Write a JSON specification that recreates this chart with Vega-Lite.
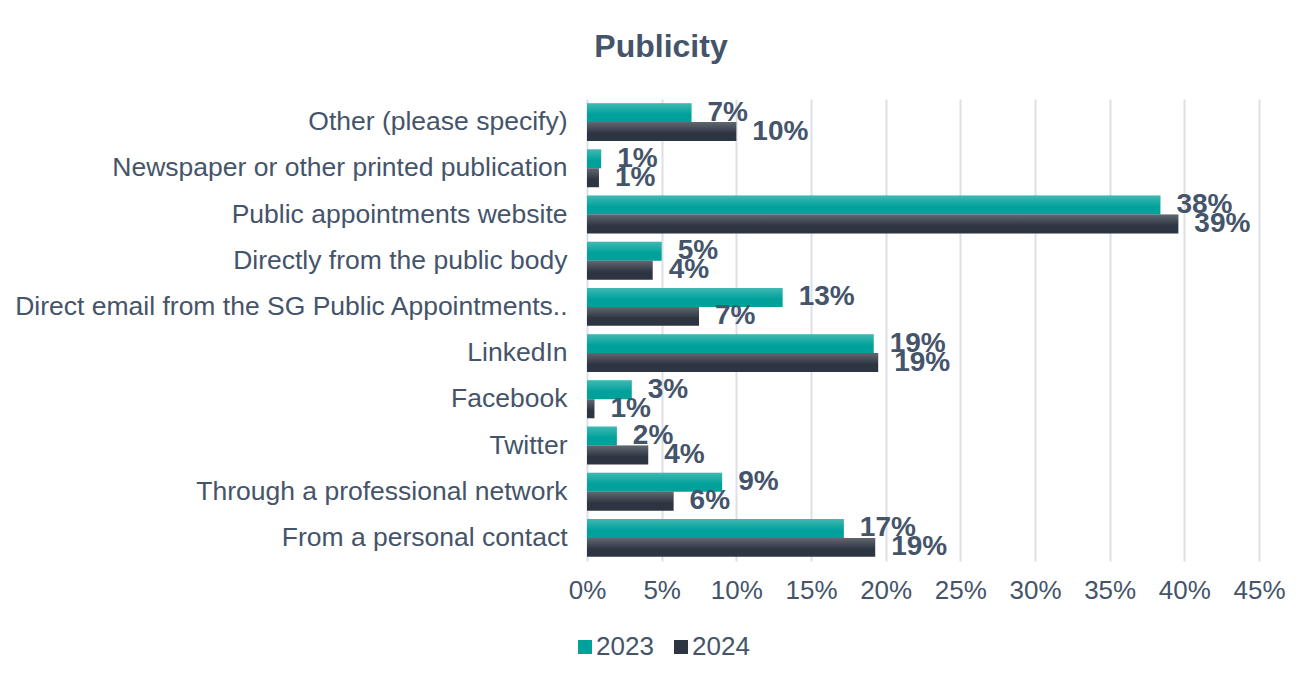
{
  "$schema": "https://vega.github.io/schema/vega-lite/v6.json",
  "autosize": {"type": "none"},
  "width": 672,
  "height": 462,
  "padding": {"left": 587, "top": 99, "right": 55, "bottom": 117},
  "background": "white",
  "config": {
    "font": "Liberation Sans",
    "view": {"stroke": null}
  },
  "title": {
    "text": "Publicity",
    "font": "Liberation Sans",
    "fontSize": 32,
    "fontWeight": "bold",
    "color": "#44546A",
    "anchor": "middle",
    "frame": "group",
    "dx": -262,
    "offset": 35
  },
  "data": {
    "values": [
      {"source": "Other (please specify)", "year": "2023", "value": 0.07, "label": "7%"},
      {"source": "Other (please specify)", "year": "2024", "value": 0.10, "label": "10%"},
      {"source": "Newspaper or other printed publication", "year": "2023", "value": 0.0095, "label": "1%"},
      {"source": "Newspaper or other printed publication", "year": "2024", "value": 0.008, "label": "1%"},
      {"source": "Public appointments website", "year": "2023", "value": 0.384, "label": "38%"},
      {"source": "Public appointments website", "year": "2024", "value": 0.396, "label": "39%"},
      {"source": "Directly from the public body", "year": "2023", "value": 0.05, "label": "5%"},
      {"source": "Directly from the public body", "year": "2024", "value": 0.044, "label": "4%"},
      {"source": "Direct email from the SG Public Appointments..", "year": "2023", "value": 0.131, "label": "13%"},
      {"source": "Direct email from the SG Public Appointments..", "year": "2024", "value": 0.075, "label": "7%"},
      {"source": "LinkedIn", "year": "2023", "value": 0.192, "label": "19%"},
      {"source": "LinkedIn", "year": "2024", "value": 0.195, "label": "19%"},
      {"source": "Facebook", "year": "2023", "value": 0.03, "label": "3%"},
      {"source": "Facebook", "year": "2024", "value": 0.005, "label": "1%"},
      {"source": "Twitter", "year": "2023", "value": 0.02, "label": "2%"},
      {"source": "Twitter", "year": "2024", "value": 0.041, "label": "4%"},
      {"source": "Through a professional network", "year": "2023", "value": 0.0905, "label": "9%"},
      {"source": "Through a professional network", "year": "2024", "value": 0.058, "label": "6%"},
      {"source": "From a personal contact", "year": "2023", "value": 0.172, "label": "17%"},
      {"source": "From a personal contact", "year": "2024", "value": 0.193, "label": "19%"}
    ]
  },
  "encoding": {
    "y": {
      "field": "source",
      "type": "nominal",
      "sort": null,
      "scale": {"paddingInner": 0.18, "paddingOuter": 0.09},
      "axis": {
        "title": null,
        "labelFontSize": 26.5,
        "labelColor": "#44546A",
        "labelPadding": 20,
        "labelLimit": 600,
        "ticks": false,
        "domain": false
      }
    },
    "yOffset": {"field": "year", "type": "nominal"},
    "x": {
      "field": "value",
      "type": "quantitative",
      "scale": {"domain": [0, 0.45], "nice": false},
      "axis": {
        "title": null,
        "format": ".0%",
        "values": [0, 0.05, 0.1, 0.15, 0.2, 0.25, 0.3, 0.35, 0.4, 0.45],
        "labelFontSize": 26,
        "labelColor": "#44546A",
        "labelPadding": 16,
        "labelFlush": false,
        "labelOverlap": false,
        "ticks": false,
        "domain": false,
        "grid": true,
        "gridColor": "#DCE0E8",
        "gridWidth": 2
      }
    }
  },
  "layer": [
    {
      "mark": {"type": "bar"},
      "encoding": {
        "color": {
          "field": "year",
          "type": "nominal",
          "scale": {"domain": ["2023", "2024"], "range": ["#00A19A", "#2C3541"]},
          "legend": {
            "title": null,
            "orient": "none",
            "direction": "horizontal",
            "legendX": -15,
            "legendY": 535,
            "symbolType": "square",
            "symbolSize": 196,
            "symbolStrokeWidth": 0,
            "labelFontSize": 26,
            "labelColor": "#44546A",
            "labelOffset": -2,
            "columnPadding": 14
          }
        }
      }
    },
    {
      "mark": {
        "type": "bar",
        "color": {
          "x1": 0, "y1": 0, "x2": 0, "y2": 1,
          "gradient": "linear",
          "stops": [
            {"offset": 0, "color": "rgba(255,255,255,0.25)"},
            {"offset": 0.6, "color": "rgba(255,255,255,0)"},
            {"offset": 1, "color": "rgba(255,255,255,0)"}
          ]
        }
      }
    },
    {
      "mark": {
        "type": "text",
        "align": "left",
        "baseline": "middle",
        "dx": 16,
        "fontSize": 28,
        "fontWeight": "bold",
        "color": "#44546A"
      },
      "encoding": {"text": {"field": "label"}}
    }
  ]
}
